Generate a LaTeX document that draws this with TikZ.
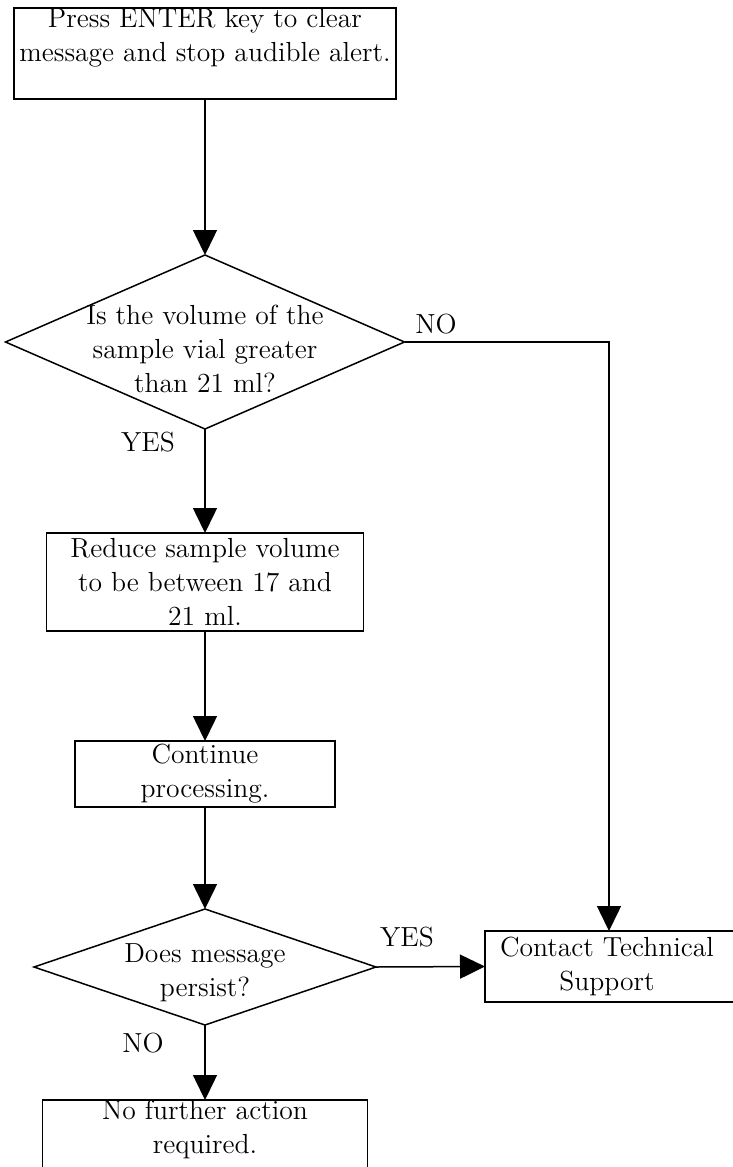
\documentclass[tikz,border=0pt]{standalone}
\usepackage{tikz}
\usetikzlibrary{shapes.geometric, arrows.meta, positioning}

\begin{document}
\begin{tikzpicture}[x=0.5pt, y=-0.5pt, >={Triangle[length=12.5pt, width=12pt]},
    font=\fontsize{13.8}{17}\selectfont, line width=0.75pt,
    box/.style={draw, rectangle, align=center, inner sep=0pt, outer sep=0pt},
    decision/.style={draw, diamond, inner sep=0pt, outer sep=0pt}]
    \useasboundingbox (0,0) rectangle (733,1167);

    % 1. Các khối
    \node[box, minimum width=191pt, minimum height=45.5pt] (press) at (205,53.5)
        {\parbox[c][45.5pt][t]{191pt}{\centering Press ENTER key to clear\\message and stop audible alert.}};
    \node[decision, minimum width=199.5pt, minimum height=87pt] (vol) at (205,342) {};
    \node[align=center] (voltxt) at (205,349) {Is the volume of the\\sample vial greater\\than 21 ml?};
    \node[box, minimum width=158.5pt, minimum height=49pt] (reduce) at (205,582)
        {Reduce sample volume\\to be between 17 and\\21 ml.};
    \node[box, minimum width=130pt, minimum height=33pt] (cont) at (205,774) {Continue\\processing.};
    \node[decision, minimum width=171pt, minimum height=58pt] (persist) at (205,967) {};
    \node[align=center] (persisttxt) at (205,973) {Does message\\persist?};
    \node[box, minimum width=130pt, minimum height=35.5pt] (contact) at (615,966.5) {\hspace*{-8pt}Contact Technical\\\hspace*{-8pt}Support};
    \node[box, minimum width=162.5pt, minimum height=40pt] (none) at (205,1140)
        {\parbox[c][40pt][t]{162.5pt}{\centering No further action\\required.}};

    % 2. Nhãn
    \node (no1) at (436,324) {NO};
    \node (yes1) at (148,442) {YES};
    \node (yes2) at (407,937) {YES};
    \node (no2) at (143,1043) {NO};

    % 3. Mũi tên
    \draw[->] (press.south) -- (vol.north);
    \draw[->] (vol.south) -- (reduce.north);
    \draw[->] (reduce.south) -- (cont.north);
    \draw[->] (cont.south) -- (persist.north);
    \draw[->] (vol.east) -| ([xshift=-3pt]contact.north);
    \draw[->] (persist.east) -- (contact.west);
    \draw[->] (persist.south) -- (none.north);
\end{tikzpicture}
\end{document}
